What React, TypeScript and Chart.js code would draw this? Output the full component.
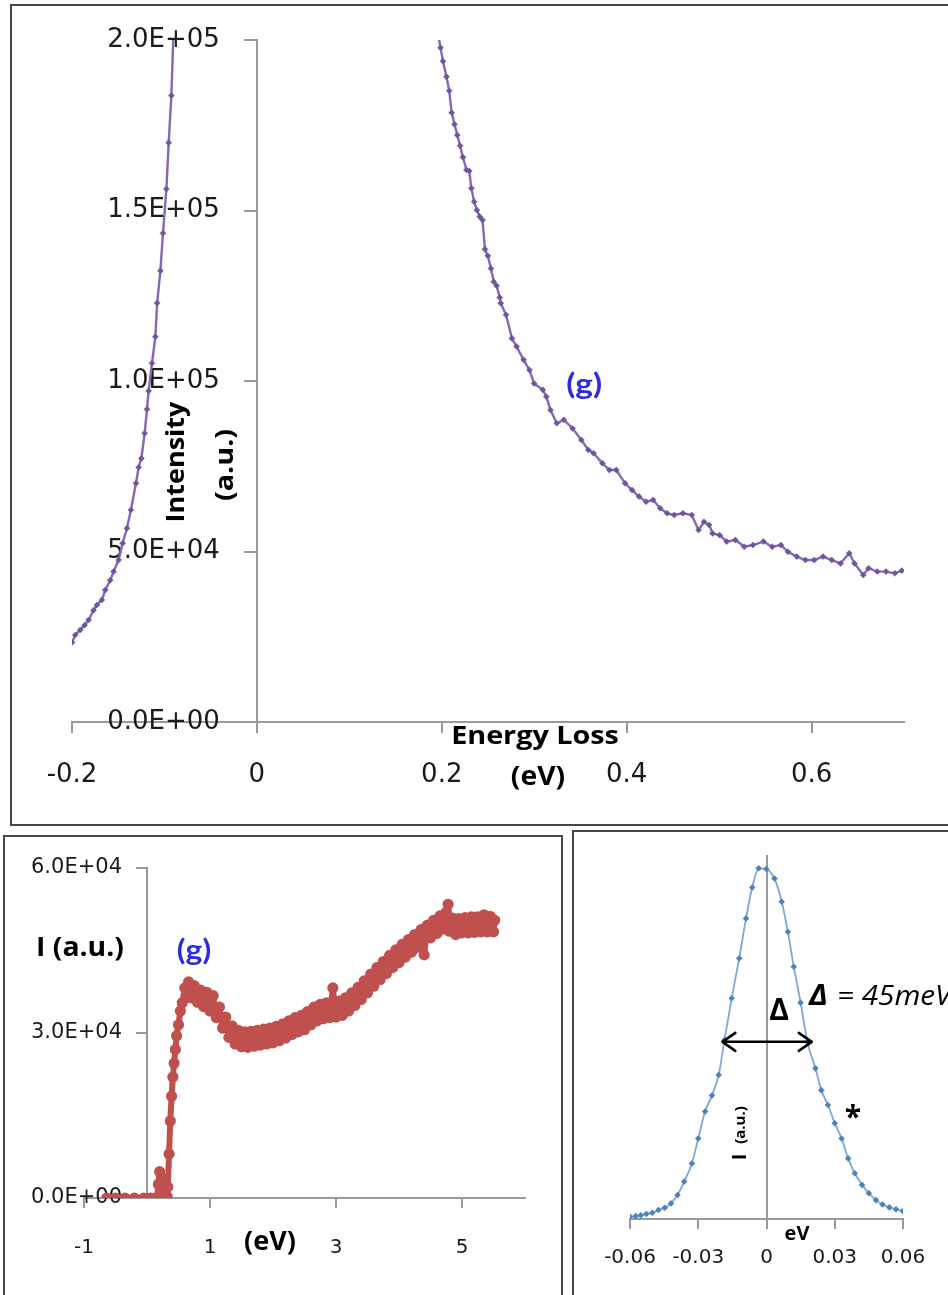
import React, { useEffect, useRef } from 'react';
import { Chart, registerables } from 'chart.js';

Chart.register(...registerables);

// ---------- Panel 1 (top): low-loss tail, Intensity vs Energy Loss ----------
const TOP_X_TICKS = [-0.2, 0, 0.2, 0.4, 0.6];
const TOP_X_LABELS = ['-0.2', '0', '0.2', '0.4', '0.6'];
const TOP_Y_TICKS = [0, 50000, 100000, 150000, 200000];
const TOP_Y_LABELS = ['0.0E+00', '5.0E+04', '1.0E+05', '1.5E+05', '2.0E+05'];

const TOP_LEFT_X = [-0.2, -0.1965, -0.1911, -0.1864, -0.1821, -0.1767, -0.1731, -0.1677, -0.164, -0.1586, -0.155, -0.1496, -0.1453, -0.1406, -0.1363, -0.1308, -0.1279, -0.125, -0.1214, -0.1189, -0.1171, -0.1135, -0.1098, -0.1079, -0.1044, -0.1016, -0.0979, -0.0954, -0.0925, -0.0894];
const TOP_LEFT_Y = [23300, 25500, 27000, 28400, 29900, 32800, 34300, 35800, 38700, 41600, 44100, 47500, 52400, 56800, 62200, 70000, 74700, 77300, 84700, 91700, 97100, 105200, 113000, 122900, 132300, 143300, 156300, 169900, 183700, 208800];

const TOP_RIGHT_X = [0.196, 0.1986, 0.2013, 0.2051, 0.2081, 0.2107, 0.2138, 0.2168, 0.2198, 0.2229, 0.2267, 0.2297, 0.232, 0.235, 0.238, 0.2411, 0.2441, 0.2467, 0.2498, 0.2532, 0.2563, 0.2593, 0.2627, 0.2638, 0.2695, 0.2759, 0.2809, 0.2885, 0.2949, 0.2998, 0.3093, 0.3131, 0.3176, 0.3244, 0.332, 0.3415, 0.351, 0.3585, 0.3642, 0.3737, 0.3813, 0.3888, 0.3983, 0.4059, 0.4134, 0.421, 0.4286, 0.4362, 0.4438, 0.4514, 0.4608, 0.4704, 0.4778, 0.4836, 0.4892, 0.493, 0.5006, 0.5082, 0.5176, 0.5272, 0.5366, 0.548, 0.5574, 0.5668, 0.5745, 0.584, 0.5934, 0.6029, 0.6124, 0.6218, 0.6313, 0.6408, 0.6465, 0.6559, 0.6617, 0.6711, 0.6805, 0.6901, 0.6977];
const TOP_RIGHT_Y = [202000, 197700, 193800, 189200, 185100, 178700, 175300, 172100, 169000, 165600, 161900, 161600, 156500, 152600, 150100, 148200, 147200, 138600, 136700, 133000, 129100, 127900, 124500, 122800, 119400, 112500, 110100, 106200, 103200, 99300, 97400, 95400, 91500, 87600, 88600, 86100, 82700, 79800, 78800, 75900, 73900, 73900, 70000, 68000, 66100, 64600, 65100, 62700, 61200, 60700, 61200, 60700, 56300, 58700, 57800, 55300, 54800, 52900, 53400, 51400, 51900, 52900, 51400, 51900, 49900, 48500, 47500, 47500, 48500, 47500, 46500, 49500, 46500, 43100, 45100, 44100, 44100, 43600, 44400];

// ---------- Panel 2 (bottom left): wide-range spectrum ----------
const BL_X_TICKS = [-1, 1, 3, 5];
const BL_X_LABELS = ['-1', '1', '3', '5'];
const BL_Y_TICKS = [0, 30000, 60000];
const BL_Y_LABELS = ['0.0E+00', '3.0E+04', '6.0E+04'];

const BL_X = [-0.64, -0.5, -0.35, -0.2, -0.05, 0.05, 0.12, 0.16, 0.18, 0.2, 0.22, 0.24, 0.26, 0.28, 0.3, 0.32, 0.33, 0.35, 0.37, 0.39, 0.41, 0.43, 0.45, 0.47, 0.5, 0.53, 0.56, 0.6, 0.63, 0.66, 0.7, 0.75, 0.8, 0.85, 0.9, 0.95, 1.0, 1.05, 1.1, 1.15, 1.2, 1.25, 1.3, 1.35, 1.4, 1.45, 1.5, 1.55, 1.6, 1.65, 1.7, 1.75, 1.8, 1.85, 1.9, 1.95, 2.0, 2.05, 2.1, 2.15, 2.2, 2.25, 2.3, 2.35, 2.4, 2.45, 2.5, 2.55, 2.6, 2.65, 2.7, 2.75, 2.8, 2.85, 2.9, 2.95, 3.0, 3.05, 3.1, 3.15, 3.2, 3.25, 3.3, 3.35, 3.4, 3.45, 3.5, 3.55, 3.6, 3.65, 3.7, 3.75, 3.8, 3.85, 3.9, 3.95, 4.0, 4.05, 4.1, 4.15, 4.2, 4.25, 4.3, 4.35, 4.4, 4.45, 4.5, 4.55, 4.6, 4.65, 4.7, 4.75, 4.78, 4.8, 4.85, 4.9, 4.95, 5.0, 5.05, 5.1, 5.15, 5.2, 5.25, 5.3, 5.35, 5.4, 5.45, 5.5, 5.52];
const BL_Y = [0, 0, 0, 0, 0, 0, 0, 0, 2500, 4800, 1200, 3600, 800, 2200, 400, 300, 2000, 8000, 14000, 18500, 22000, 24500, 27000, 29500, 31500, 34000, 35500, 38200, 36500, 39300, 36400, 38600, 35600, 37800, 34800, 37400, 34000, 36800, 32800, 34700, 30900, 32900, 29200, 31300, 28000, 30500, 27500, 30200, 27400, 30300, 27600, 30500, 27800, 30700, 28000, 30900, 28200, 31200, 28600, 31600, 29100, 32200, 29700, 32800, 30200, 33200, 30600, 33900, 31500, 34700, 32200, 35200, 32600, 35500, 32800, 38200, 32900, 35800, 33200, 36400, 34000, 37300, 35000, 38300, 36100, 39500, 37300, 40700, 38500, 41900, 39700, 43000, 40800, 44100, 41900, 45100, 42800, 46100, 43800, 47000, 44700, 47900, 45600, 48800, 44200, 49600, 47300, 50500, 48100, 51300, 48900, 52000, 53400, 48500, 50900, 47900, 50800, 48200, 51000, 48200, 51100, 48300, 51100, 48400, 51500, 48400, 51200, 48400, 50500];

// ---------- Panel 3 (bottom right): zero-loss peak ----------
const BR_X_TICKS = [-0.06, -0.03, 0, 0.03, 0.06];
const BR_X_LABELS = ['-0.06', '-0.03', '0', '0.03', '0.06'];
const BR_X = [-0.06, -0.0575, -0.0553, -0.0528, -0.0502, -0.0475, -0.0447, -0.042, -0.0391, -0.0362, -0.0328, -0.03, -0.027, -0.024, -0.021, -0.0185, -0.0153, -0.012, -0.009, -0.0063, -0.0034, -0.0001, 0.0035, 0.0067, 0.0094, 0.012, 0.015, 0.018, 0.0215, 0.0241, 0.027, 0.03, 0.033, 0.0359, 0.0388, 0.042, 0.045, 0.0481, 0.051, 0.054, 0.0569, 0.0599];
const BR_Y = [0.006, 0.008, 0.01, 0.014, 0.017, 0.025, 0.031, 0.043, 0.066, 0.103, 0.153, 0.222, 0.296, 0.34, 0.397, 0.493, 0.608, 0.718, 0.828, 0.913, 0.966, 0.964, 0.938, 0.874, 0.791, 0.695, 0.596, 0.488, 0.415, 0.355, 0.314, 0.264, 0.222, 0.167, 0.126, 0.094, 0.071, 0.052, 0.04, 0.032, 0.027, 0.022];
const BR_FWHM = [-0.0194, 0.0199];
const BR_HALF = 0.488;

// ---------- helpers ----------
const AXIS = '#9a9a9a';
const TICK_COLOR = '#1a1a1a';
const TICK_FONT = 'DejaVu Sans';
const TITLE_FONT = "'Open Sans', 'DejaVu Sans', sans-serif";
const G_FONT = "Lato, 'Open Sans', sans-serif";

const pts = (xs: number[], ys: number[]) => xs.map((x, i) => ({ x, y: ys[i] }));

function txt(ctx: CanvasRenderingContext2D, s: string, x: number, y: number, font: string, color = '#000', o: { rot?: number; sx?: number; align?: CanvasTextAlign } = {}) {
  ctx.save();
  ctx.translate(x, y);
  if (o.rot) ctx.rotate(o.rot);
  ctx.scale(o.sx ?? 1, 1);
  ctx.font = font;
  ctx.fillStyle = color;
  ctx.textAlign = o.align ?? 'center';
  ctx.textBaseline = 'middle';
  ctx.fillText(s, 0, 0);
  ctx.restore();
}

function xAxis(min: number, max: number, ticks: number[], labels: string[], size: number, pad: number, tl: number) {
  return {
    type: 'linear', min, max, position: { y: 0 },
    afterBuildTicks: (s: any) => { s.ticks = ticks.map((v) => ({ value: v })); },
    ticks: { autoSkip: false, maxRotation: 0, minRotation: 0, padding: pad, color: TICK_COLOR, font: { family: TICK_FONT, size }, callback: (_v: any, i: number) => labels[i] },
    grid: { drawOnChartArea: false, drawTicks: true, tickLength: tl, color: AXIS, lineWidth: 2 },
    border: { display: true, color: AXIS, width: 2 },
  };
}

// axis line + outward tick marks at x = 0
function yLine(min: number, max: number, ticks: number[], tl: number) {
  return {
    type: 'linear', min, max, position: { x: 0 },
    afterBuildTicks: (s: any) => { s.ticks = ticks.map((v) => ({ value: v })); },
    ticks: { display: false },
    grid: { display: tl > 0, drawOnChartArea: false, drawTicks: true, tickLength: tl, color: AXIS, lineWidth: 2 },
    border: { display: true, color: AXIS, width: 2 },
  };
}

// tick labels only, right-aligned at the given x value (left of the axis line)
function yLabels(min: number, max: number, ticks: number[], labels: string[], size: number, at: number) {
  return {
    type: 'linear', min, max, position: { x: at },
    afterBuildTicks: (s: any) => { s.ticks = ticks.map((v) => ({ value: v })); },
    ticks: { autoSkip: false, padding: 0, color: TICK_COLOR, font: { family: TICK_FONT, size }, callback: (_v: any, i: number) => labels[i] },
    grid: { display: false },
    border: { display: false },
  };
}

const base = (padding: any) => ({
  animation: false,
  responsive: false,
  devicePixelRatio: 1,
  layout: { padding },
  plugins: { legend: { display: false }, tooltip: { enabled: false } },
});

const purple = {
  borderColor: '#8468b4', borderWidth: 2.4, pointRadius: 3, pointStyle: 'rectRot',
  pointBackgroundColor: '#6e559e', pointBorderColor: '#6e559e', pointBorderWidth: 0.5, tension: 0,
};

const topConfig: any = {
  type: 'line',
  data: {
    datasets: [
      { data: pts(TOP_LEFT_X, TOP_LEFT_Y), ...purple },
      { data: pts(TOP_RIGHT_X, TOP_RIGHT_Y), ...purple },
    ],
  },
  options: {
    ...base({ left: 72, right: 44, top: 40, bottom: 573 }),
    scales: {
      x: xAxis(-0.2, 0.7, TOP_X_TICKS, TOP_X_LABELS, 26, 28, 10),
      y: yLine(0, 200000, TOP_Y_TICKS, 12),
      yl: yLabels(0, 200000, TOP_Y_TICKS, TOP_Y_LABELS, 26, -0.0401),
    },
  },
  plugins: [{
    id: 'topText',
    afterDraw(chart: any) {
      const c = chart.ctx;
      txt(c, 'Intensity', 177, 462, `bold 25px ${TITLE_FONT}`, '#000', { rot: -Math.PI / 2, sx: 1.08 });
      txt(c, '(a.u.)', 226, 465, `bold 25px ${TITLE_FONT}`, '#000', { rot: -Math.PI / 2, sx: 1.15 });
      txt(c, 'Energy Loss', 535, 737, `bold 25px ${TITLE_FONT}`, '#000', { sx: 1.15 });
      txt(c, '(eV)', 538, 777, `bold 27px ${TITLE_FONT}`, '#000', { sx: 1.05 });
      const xs = chart.scales.x, ys = chart.scales.y;
      txt(c, '(g)', xs.getPixelForValue(0.354), ys.getPixelForValue(99000), `bold 29px ${G_FONT}`, '#2b2be0', { sx: 1.15 });
    },
  }],
};

const blConfig: any = {
  type: 'line',
  data: {
    datasets: [{
      data: pts(BL_X, BL_Y), borderColor: '#c0504d', borderWidth: 6, borderJoinStyle: 'round', borderCapStyle: 'round',
      pointRadius: 2.6, pointBackgroundColor: '#c0504d', pointBorderColor: '#c0504d', tension: 0,
    }],
  },
  options: {
    ...base({ left: 84, right: 423, top: 868, bottom: 97 }),
    scales: {
      x: xAxis(-1, 6, BL_X_TICKS, BL_X_LABELS, 20, 29, 9),
      y: yLine(0, 60000, BL_Y_TICKS, 10),
      yl: yLabels(0, 60000, BL_Y_TICKS, BL_Y_LABELS, 21, -0.397),
    },
  },
  plugins: [{
    id: 'blText',
    afterDraw(chart: any) {
      const c = chart.ctx;
      txt(c, 'I (a.u.)', 80, 948, `bold 27px ${TITLE_FONT}`, '#000', { sx: 1.05 });
      txt(c, '(g)', 194, 951, `bold 29px ${G_FONT}`, '#2b2be0', { sx: 1.1 });
      txt(c, '(eV)', 270, 1242, `bold 27px ${TITLE_FONT}`, '#000', { sx: 1.0 });
    },
  }],
};

const brConfig: any = {
  type: 'line',
  data: {
    datasets: [{
      data: pts(BR_X, BR_Y), borderColor: '#7fa7d6', borderWidth: 1.8, cubicInterpolationMode: 'monotone',
      pointRadius: 2, pointStyle: 'rectRot', pointBackgroundColor: '#4f81bd', pointBorderColor: '#4f81bd',
    }],
  },
  options: {
    ...base({ left: 630, right: 45, top: 856, bottom: 76 }),
    scales: {
      x: xAxis(-0.06, 0.06, BR_X_TICKS, BR_X_LABELS, 20, 18, 9),
      y: yLine(0, 1, [0, 1], 0),
    },
  },
  plugins: [{
    id: 'brText',
    afterDraw(chart: any) {
      const c = chart.ctx;
      const xs = chart.scales.x, ys = chart.scales.y;
      const x1 = xs.getPixelForValue(BR_FWHM[0]);
      const x2 = xs.getPixelForValue(BR_FWHM[1]);
      const y = ys.getPixelForValue(BR_HALF);
      c.save();
      c.strokeStyle = '#000'; c.lineWidth = 2.5; c.lineCap = 'round'; c.lineJoin = 'round';
      c.beginPath();
      c.moveTo(x1, y); c.lineTo(x2, y);
      c.moveTo(x1 + 13, y - 9); c.lineTo(x1, y); c.lineTo(x1 + 13, y + 9);
      c.moveTo(x2 - 13, y - 9); c.lineTo(x2, y); c.lineTo(x2 - 13, y + 9);
      c.stroke();
      c.restore();
      txt(c, 'Δ', 779, 1011, `bold 30px ${TITLE_FONT}`, '#000');
      txt(c, 'Δ', 809, 997, `italic bold 28px ${TITLE_FONT}`, '#000', { align: 'left', sx: 1.1 });
      txt(c, '= 45meV', 837, 997, `italic 27px ${TITLE_FONT}`, '#000', { align: 'left', sx: 1.1 });
      txt(c, '*', 853, 1118, `bold 30px ${TITLE_FONT}`, '#000');
      txt(c, 'I', 740, 1157, `bold 20px ${TITLE_FONT}`, '#000', { rot: -Math.PI / 2 });
      txt(c, '(a.u.)', 741, 1125, `bold 15px ${TITLE_FONT}`, '#000', { rot: -Math.PI / 2 });
      txt(c, 'eV', 797, 1235, `bold 19px ${TITLE_FONT}`, '#000', { sx: 1.05 });
    },
  }],
};

function Panel({ config }: { config: any }) {
  const ref = useRef<HTMLCanvasElement | null>(null);
  useEffect(() => {
    if (!ref.current) return;
    const chart = new Chart(ref.current, config);
    return () => chart.destroy();
  }, [config]);
  return (
    <canvas ref={ref} width={948} height={1295}
      style={{ position: 'absolute', left: 0, top: 0, width: 948, height: 1295, pointerEvents: 'none' }} />
  );
}

export default function App() {
  const box = (left: number, top: number, width: number, height: number) => (
    <div style={{ position: 'absolute', left, top, width, height, border: '2px solid #474747' }} />
  );
  return (
    <div style={{ position: 'absolute', left: 0, top: 0, width: 948, height: 1295, overflow: 'hidden', background: '#fff' }}>
      {box(10, 4, 980, 818)}
      {box(3, 835, 556, 500)}
      {box(572, 830, 500, 500)}
      <Panel config={topConfig} />
      <Panel config={blConfig} />
      <Panel config={brConfig} />
    </div>
  );
}
